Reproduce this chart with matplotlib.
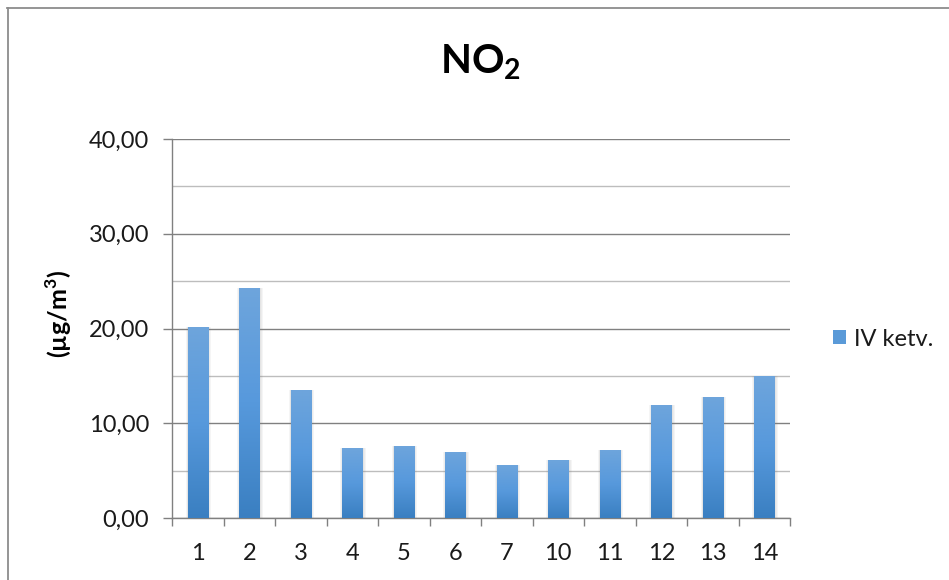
import numpy as np
import matplotlib
matplotlib.use("Agg")
import matplotlib.pyplot as plt
from matplotlib.patches import Rectangle
from matplotlib.lines import Line2D
from matplotlib.colors import LinearSegmentedColormap
from matplotlib.ticker import FuncFormatter, MultipleLocator

plt.rcParams['font.family'] = ['Lato', 'DejaVu Sans']
plt.rcParams['mathtext.fontset'] = 'custom'
plt.rcParams['mathtext.rm'] = 'Lato'
plt.rcParams['mathtext.bf'] = 'Lato:bold'

# matavimo vietos ir NO2 koncentracijos (IV ketvirtis)
stotys = ['1', '2', '3', '4', '5', '6', '7', '10', '11', '12', '13', '14']
reiksmes = [20.2, 24.3, 13.5, 7.35, 7.6, 7.0, 5.6, 6.15, 7.2, 11.95, 12.8, 14.95]
serija = 'IV ketv.'

W, H = 949, 580
fig = plt.figure(figsize=(W / 100, H / 100), dpi=100)

# ašių plotas pikseliais
x0, x1, y_top, y_bot = 172, 790, 139, 518
ax = fig.add_axes([x0 / W, 1 - y_bot / H, (x1 - x0) / W, (y_bot - y_top) / H])

x = np.arange(len(stotys))
plotis = 0.39

# šešėlis aplink stulpelius
for k in range(1, 4):
    ax.bar(x + 0.012, reiksmes, width=plotis + 0.035 * k, color='#7f7f7f',
           alpha=0.07, zorder=2, linewidth=0)

bars = ax.bar(x, reiksmes, width=plotis, color='none', linewidth=0, zorder=3)

# gradientas: šviesesnis viršuje, tamsesnis apačioje
cmap = LinearSegmentedColormap.from_list('mel', ['#3a7fc1', '#5799dc', '#6ea5dc'])
grad = np.linspace(0, 1, 256).reshape(-1, 1)
for b in bars:
    bx, by = b.get_x(), b.get_y()
    bw, bh = b.get_width(), b.get_height()
    im = ax.imshow(grad, cmap=cmap, origin='lower', aspect='auto',
                   extent=[bx, bx + bw, by, by + bh], zorder=3)
    im.set_clip_path(b)

ax.set_xlim(-0.5, len(stotys) - 0.5)
ax.set_ylim(0, 40)

# tinklelis
ax.yaxis.set_major_locator(MultipleLocator(10))
ax.yaxis.set_minor_locator(MultipleLocator(5))
ax.grid(axis='y', which='major', color='#808080', linewidth=1.0, zorder=0)
ax.grid(axis='y', which='minor', color='#bdbdbd', linewidth=1.0, zorder=0)
ax.set_axisbelow(True)

ax.yaxis.set_major_formatter(FuncFormatter(lambda v, p: f"{v:.2f}".replace('.', ',')))
ax.tick_params(axis='y', which='major', length=6.5, width=1, color='#808080',
               labelsize=17, labelcolor='#1a1a1a', pad=10)
ax.tick_params(axis='y', which='minor', length=0)

ax.set_xticks(x)
ax.set_xticklabels(stotys)
ax.set_xticks(np.arange(-0.5, len(stotys)), minor=True)
ax.tick_params(axis='x', which='major', length=0, labelsize=17,
               labelcolor='#1a1a1a', pad=18)
ax.tick_params(axis='x', which='minor', length=6, width=1, color='#808080')

for s in ['top', 'right']:
    ax.spines[s].set_visible(False)
for s in ['left', 'bottom']:
    ax.spines[s].set_color('#808080')
    ax.spines[s].set_linewidth(1.0)

# pavadinimas ir ašies užrašas
fig.text(481 / W, 1 - 62 / H, r'$\mathbf{NO_2}$', ha='center', va='center',
         fontsize=29, color='#000000')
fig.text(59 / W, 1 - 314 / H, r'(µg/m$^\mathbf{3}$)', rotation=90, ha='center',
         va='center', fontsize=18, fontweight='bold', color='#000000')

# legenda
h = Rectangle((0, 0), 1, 1, facecolor='#5a9ad8', edgecolor='none')
fig.legend([h], [serija], loc='center left',
           bbox_to_anchor=(833 / W, 1 - 339 / H), frameon=False, fontsize=17,
           handlelength=0.55, handleheight=0.55, handletextpad=0.35,
           borderpad=0, borderaxespad=0, labelcolor='#1a1a1a')

# diagramos rėmelis
fig.add_artist(Line2D([7 / W, 1], [1 - 8 / H, 1 - 8 / H], color='#8c8c8c',
                      linewidth=1.3, transform=fig.transFigure))
fig.add_artist(Line2D([7.5 / W, 7.5 / W], [0, 1 - 8 / H], color='#8c8c8c',
                      linewidth=1.3, transform=fig.transFigure))

fig.savefig('out.png', dpi=100)
